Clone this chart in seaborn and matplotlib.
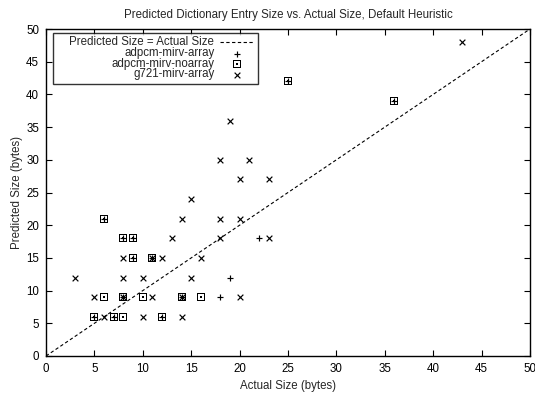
import numpy as np
import pandas as pd
import matplotlib
matplotlib.use("Agg")
import matplotlib.pyplot as plt
from matplotlib.path import Path
import seaborn as sns

# Actual vs. predicted dictionary entry sizes (bytes) for each benchmark
array_actual = [22, 19, 18, 8, 5, 7, 12, 25, 36, 6, 9, 9, 11, 8, 14]
array_pred   = [18, 12, 9, 18, 6, 6, 6, 42, 39, 21, 18, 15, 15, 9, 9]

noarray_actual = [6, 10, 16, 8, 8, 5, 7, 12, 25, 36, 6, 9, 9, 11, 8, 14]
noarray_pred   = [9, 9, 9, 6, 18, 6, 6, 6, 42, 39, 21, 18, 15, 15, 9, 9]

g721_actual = [43, 19, 18, 21, 20, 23, 15, 14, 18, 20, 13, 18, 23, 8, 12, 16,
               3, 8, 10, 15, 5, 11, 20, 6, 10, 14, 11, 8, 14]
g721_pred   = [48, 36, 30, 30, 27, 27, 24, 21, 21, 21, 18, 18, 18, 15, 15, 15,
               12, 12, 12, 12, 9, 9, 9, 6, 6, 6, 15, 9, 9]

diag = [0, 50]
ticks = list(range(0, 51, 5))

series = [
    ("adpcm-mirv-array", array_actual, array_pred),
    ("adpcm-mirv-noarray", noarray_actual, noarray_pred),
    ("g721-mirv-array", g721_actual, g721_pred),
]

# Square outline with a dot in the middle, drawn as one filled compound path
def boxed_dot():
    o, i, d = 0.5, 0.36, 0.11
    verts = [(-o, -o), (o, -o), (o, o), (-o, o), (-o, -o),
             (-i, -i), (-i, i), (i, i), (i, -i), (-i, -i),
             (-d, -d), (d, -d), (d, d), (-d, d), (-d, -d)]
    codes = ([Path.MOVETO] + [Path.LINETO] * 3 + [Path.CLOSEPOLY]) * 3
    return Path(verts, codes)

FS = 8.3

sns.set_theme(style="ticks")
plt.rcParams["font.family"] = ["Liberation Sans", "DejaVu Sans"]
plt.rcParams["axes.linewidth"] = 1.0

fig = plt.figure(figsize=(5.35, 3.95), dpi=100)
ax = fig.add_axes([46 / 535, 39 / 395, 484 / 535, 327 / 395])

sns.lineplot(x=diag, y=diag, ax=ax, color="black", lw=0.8,
             linestyle=(0, (3, 2.2)), label="    Predicted Size = Actual Size")

markers = {"adpcm-mirv-array": "+", "adpcm-mirv-noarray": boxed_dot(),
           "g721-mirv-array": "x"}
sizes = {"adpcm-mirv-array": 24, "adpcm-mirv-noarray": 28,
         "g721-mirv-array": 17}
for name, xs, ys in series:
    df = pd.DataFrame({"actual": xs, "predicted": ys})
    lw = 0 if name == "adpcm-mirv-noarray" else 0.85
    sns.scatterplot(data=df, x="actual", y="predicted", ax=ax,
                    marker=markers[name], s=sizes[name], color="black",
                    linewidth=lw, label=name, zorder=3)

ax.set_xlim(0, 50)
ax.set_ylim(0, 50)
ax.set_xticks(ticks)
ax.set_yticks(ticks)
ax.tick_params(direction="in", length=4, width=0.8, labelsize=FS,
               top=True, right=True, colors="black", pad=5)
for sp in ax.spines.values():
    sp.set_visible(True)
    sp.set_color("black")

ax.set_xlabel("Actual Size (bytes)", fontsize=FS, labelpad=4)
ax.set_ylabel("Predicted Size (bytes)", fontsize=FS, labelpad=2)
ax.set_title("Predicted Dictionary Entry Size vs. Actual Size, Default Heuristic",
             fontsize=FS, pad=8)

leg = ax.legend(loc="upper left", bbox_to_anchor=(0.0145, 0.988),
                borderaxespad=0, markerfirst=False, fontsize=FS,
                frameon=True, fancybox=False, handlelength=3.0,
                handleheight=0.4, handletextpad=0.45, labelspacing=-0.12,
                borderpad=0.3, scatterpoints=1)
leg.get_frame().set_edgecolor("black")
leg.get_frame().set_linewidth(1.0)

fig.savefig("out.png", dpi=100)
